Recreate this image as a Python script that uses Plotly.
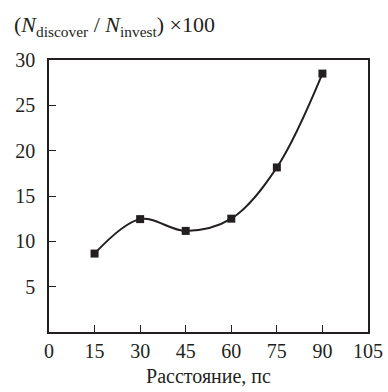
import plotly.graph_objects as go

distance = [15, 30, 45, 60, 75, 90]
ratio = [8.65, 12.45, 11.15, 12.5, 18.15, 28.5]
x_ticks = [0, 15, 30, 45, 60, 75, 90, 105]
y_ticks = [5, 10, 15, 20, 25, 30]

font = "Liberation Serif, Times New Roman, serif"

fig = go.Figure()
fig.add_trace(go.Scatter(
    x=distance, y=ratio, mode="lines+markers",
    line=dict(color="#231f20", width=2, shape="spline", smoothing=1.0),
    marker=dict(symbol="square", size=8, color="#231f20"),
    showlegend=False, cliponaxis=False,
))

fig.update_layout(
    width=388, height=392,
    margin=dict(l=49, r=20, t=60, b=60, autoexpand=False),
    paper_bgcolor="white", plot_bgcolor="white",
    font=dict(family=font, size=20, color="#231f20"),
    xaxis=dict(
        range=[0, 105], tickvals=x_ticks, ticktext=[str(v) for v in x_ticks],
        ticks="inside", ticklen=7, tickcolor="#231f20", tickwidth=1,
        showline=True, linecolor="#231f20", linewidth=1.5, mirror=True,
        showgrid=False, zeroline=False, automargin=False,
        title=dict(text="Расстояние, пс", font=dict(family=font, size=20), standoff=8),
    ),
    yaxis=dict(
        range=[0, 30], tickvals=y_ticks, ticktext=[str(v) for v in y_ticks],
        ticks="inside", ticklen=7, tickcolor="#231f20", tickwidth=1,
        showline=True, linecolor="#231f20", linewidth=1.5, mirror=True,
        showgrid=False, zeroline=False, ticklabelstandoff=8, automargin=False,
    ),
    annotations=[dict(
        xref="paper", yref="paper", x=-0.115, y=1.065, xanchor="left", yanchor="bottom",
        text="(<i>N</i><sub>discover</sub> / <i>N</i><sub>invest</sub>) ×100",
        showarrow=False, font=dict(family=font, size=22, color="#231f20"),
    )],
)

fig.write_html(
    "out.html",
    config={"displayModeBar": False},
    post_script="document.body.style.margin='0';document.body.style.overflow='hidden';",
)
